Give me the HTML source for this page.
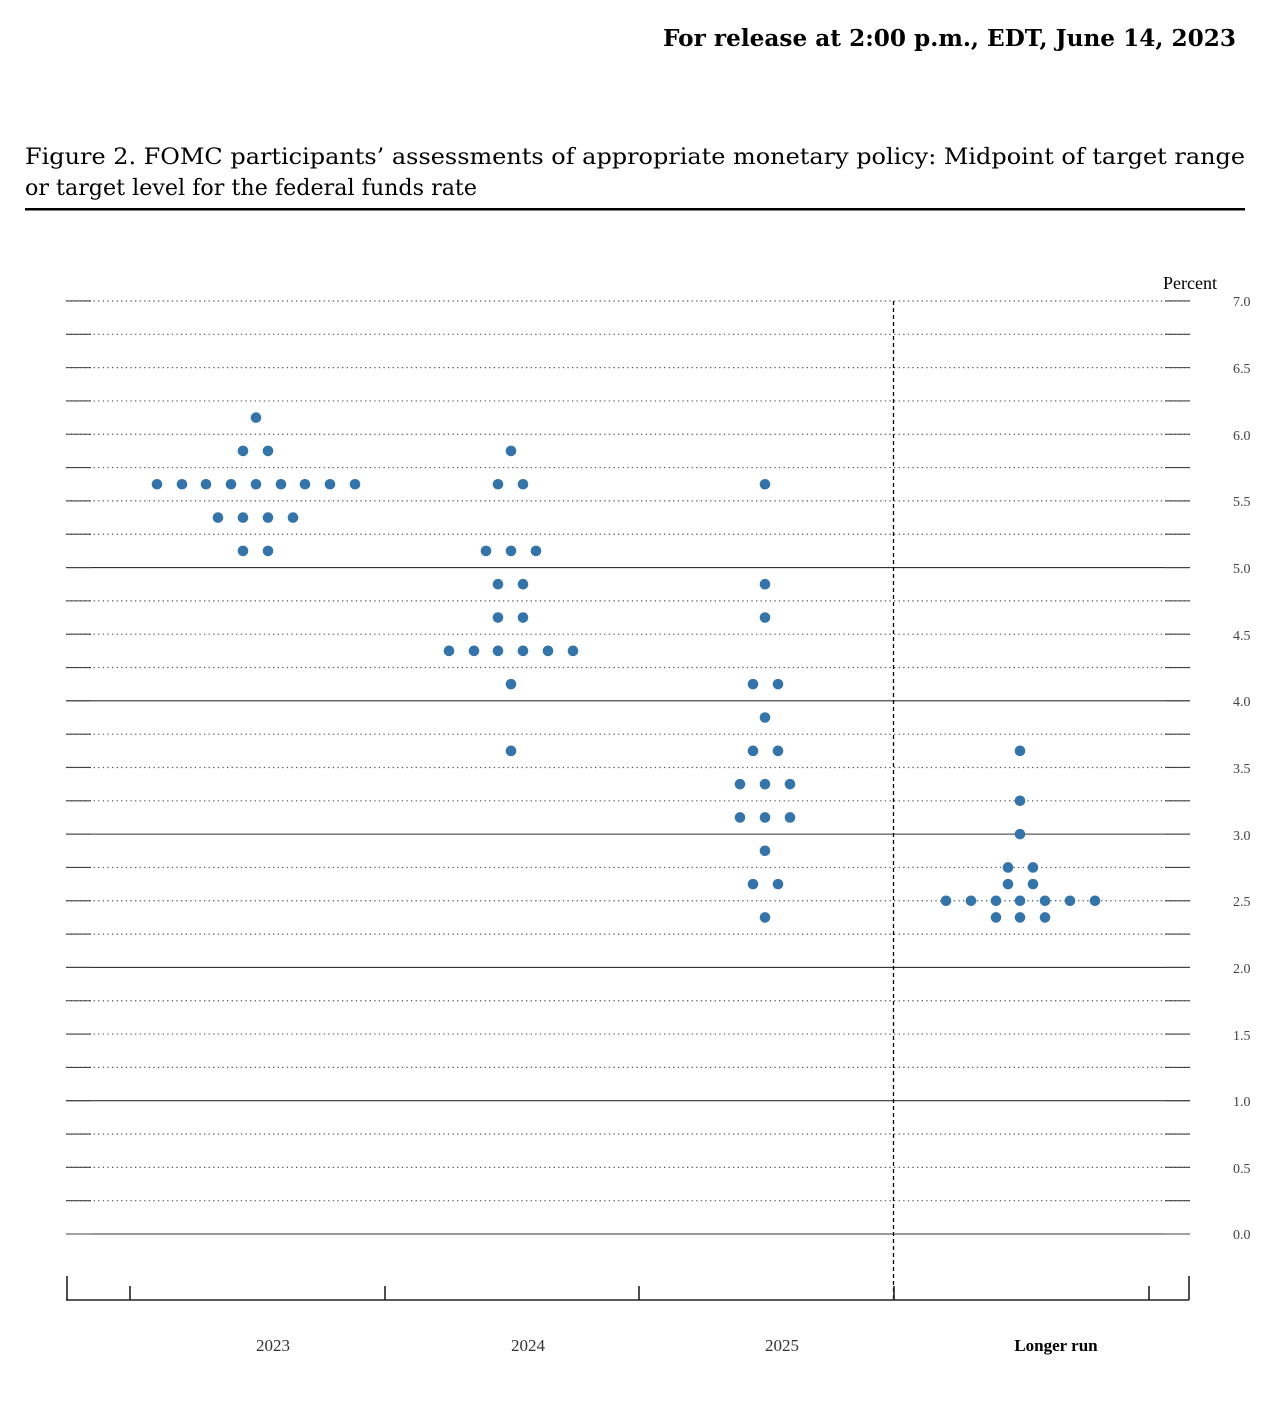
<!DOCTYPE html>
<html><head><meta charset="utf-8"><style>
body{margin:0;background:#fff;width:1280px;height:1410px;overflow:hidden}
svg{display:block}
</style></head><body>
<svg id="s" width="1280" height="1410" xmlns="http://www.w3.org/2000/svg" font-family="'Liberation Serif',serif">
<text x="663" y="46" font-size="23" font-weight="bold" font-family="'DejaVu Serif',serif" textLength="573" lengthAdjust="spacingAndGlyphs">For release at 2:00 p.m., EDT, June 14, 2023</text>
<text x="25" y="164" font-size="22" font-family="'DejaVu Serif',serif" textLength="1220" lengthAdjust="spacingAndGlyphs">Figure 2.  FOMC participants’ assessments of appropriate monetary policy:  Midpoint of target range</text>
<text x="25" y="195" font-size="22" font-family="'DejaVu Serif',serif" textLength="452" lengthAdjust="spacingAndGlyphs">or target level for the federal funds rate</text>
<rect x="25" y="208" width="1220" height="2.5" fill="#000"/>
<text x="1190" y="289" text-anchor="middle" font-size="18">Percent</text>
<g id="grid"></g>
<line x1="893.5" y1="301" x2="893.5" y2="1300" stroke="#000" stroke-width="1.3" stroke-dasharray="4,3"/>
<g stroke="#222" stroke-width="1.6">
<line x1="66" y1="1300" x2="1189" y2="1300"/>
<line x1="67" y1="1276" x2="67" y2="1300"/>
<line x1="1189" y1="1276" x2="1189" y2="1300"/>
<line x1="130" y1="1286" x2="130" y2="1300"/>
<line x1="385" y1="1286" x2="385" y2="1300"/>
<line x1="639" y1="1286" x2="639" y2="1300"/>
<line x1="894" y1="1286" x2="894" y2="1300"/>
<line x1="1149" y1="1286" x2="1149" y2="1300"/>
</g>
<g font-size="17" fill="#333" text-anchor="middle">
<text x="273" y="1351">2023</text>
<text x="528" y="1351">2024</text>
<text x="782" y="1351">2025</text>
<text x="1056" y="1351" fill="#000" font-weight="bold" font-size="17">Longer run</text>
</g>
<g font-size="14" fill="#444">
<text x="1233" y="306">7.0</text><text x="1233" y="373">6.5</text><text x="1233" y="440">6.0</text>
<text x="1233" y="506">5.5</text><text x="1233" y="573">5.0</text><text x="1233" y="706">4.0</text>
<text x="1233" y="640">4.5</text><text x="1233" y="773">3.5</text><text x="1233" y="840">3.0</text>
<text x="1233" y="906">2.5</text><text x="1233" y="973">2.0</text><text x="1233" y="1040">1.5</text>
<text x="1233" y="1106">1.0</text><text x="1233" y="1173">0.5</text><text x="1233" y="1239">0.0</text>
</g>
<g id="dots" fill="#3474a8"></g>
</svg>
<script>
var ns="http://www.w3.org/2000/svg";
function Y(v){return 1234-v*133.29;}
var g=document.getElementById('grid');
for(var i=0;i<=28;i++){var v=i*0.25,y=Y(v);
 var solid=(i%4==0&&v<=5);
 var l=document.createElementNS(ns,'line');
 l.setAttribute('x1',66);l.setAttribute('x2',1190);l.setAttribute('y1',y);l.setAttribute('y2',y);
 l.setAttribute('stroke',solid?'#333':'#555');l.setAttribute('stroke-width',solid?1.1:1.2);
 if(!solid)l.setAttribute('stroke-dasharray','1.3,3.3');
 g.appendChild(l);
 [[66,91],[1165,1190]].forEach(function(p){var t=document.createElementNS(ns,'line');
 t.setAttribute('x1',p[0]);t.setAttribute('x2',p[1]);t.setAttribute('y1',y);t.setAttribute('y2',y);
 t.setAttribute('stroke','#444');t.setAttribute('stroke-width',1.1);g.appendChild(t);});
}
var d=[
[6.125,[256]],[5.875,[243,268]],[5.625,[157,182,206,231,256,281,305,330,355]],[5.375,[218,243,268,293]],[5.125,[243,268]],
[5.875,[511]],[5.625,[498,523]],[5.125,[486,511,536]],[4.875,[498,523]],[4.625,[498,523]],[4.375,[449,474,498,523,548,573]],[4.125,[511]],[3.625,[511]],
[5.625,[765]],[4.875,[765]],[4.625,[765]],[4.125,[753,778]],[3.875,[765]],[3.625,[753,778]],[3.375,[740,765,790]],[3.125,[740,765,790]],[2.875,[765]],[2.625,[753,778]],[2.375,[765]],
[3.625,[1020]],[3.25,[1020]],[3.0,[1020]],[2.75,[1008,1033]],[2.625,[1008,1033]],[2.5,[946,971,996,1020,1045,1070,1095]],[2.375,[996,1020,1045]]];
var D=document.getElementById('dots');
d.forEach(function(r){r[1].forEach(function(x){var c=document.createElementNS(ns,'circle');
c.setAttribute('cx',x);c.setAttribute('cy',Y(r[0]));c.setAttribute('r',5.3);D.appendChild(c);});});
</script>
</body></html>
